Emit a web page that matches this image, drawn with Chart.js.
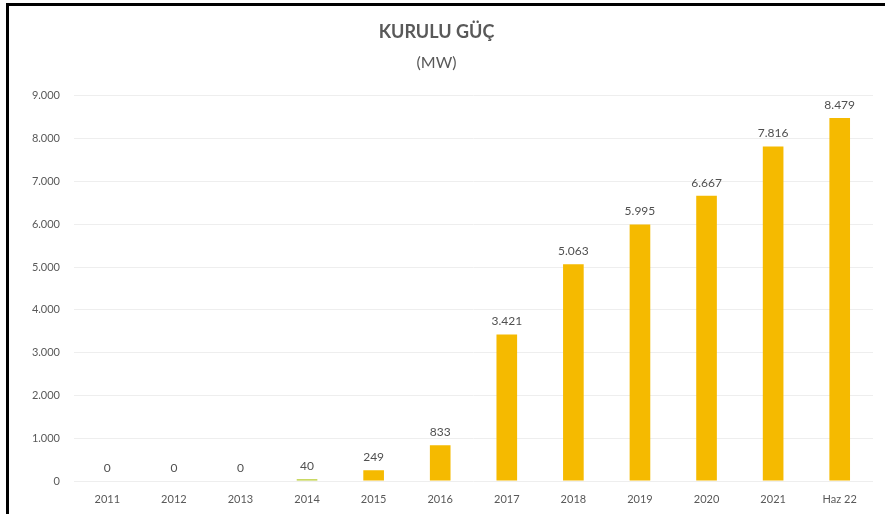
<!DOCTYPE html>
<html>
<head>
<meta charset="utf-8">
<script src="https://cdn.jsdelivr.net/npm/chart.js@4.4.0/dist/chart.umd.min.js"></script>
<style>
  html, body { margin: 0; padding: 0; background: #fff; }
  #wrap { position: relative; width: 885px; height: 514px; }
  #frameTop { position: absolute; left: 6px; top: 3px; width: 879px; height: 3px; background: #000; }
  #frameLeft { position: absolute; left: 6px; top: 3px; width: 3px; height: 511px; background: #000; }
  canvas { position: absolute; left: 0; top: 0; }
</style>
</head>
<body>
<div id="wrap">
  <canvas id="chart" width="885" height="514"></canvas>
  <div id="frameTop"></div>
  <div id="frameLeft"></div>
</div>
<script>
const categories = ['2011', '2012', '2013', '2014', '2015', '2016', '2017', '2018', '2019', '2020', '2021', 'Haz 22'];
const installedMW = [0, 0, 0, 40, 249, 833, 3421, 5063, 5995, 6667, 7816, 8479];
const barColors = ['#F5BA00', '#F5BA00', '#F5BA00', '#B8CC30', '#F5BA00', '#F5BA00', '#F5BA00', '#F5BA00', '#F5BA00', '#F5BA00', '#F5BA00', '#F5BA00'];

const fmt = v => String(v).replace(/\B(?=(\d{3})+(?!\d))/g, '.');

const valueLabels = {
    id: 'valueLabels',
    afterDatasetsDraw(chart) {
        const ctx = chart.ctx;
        const meta = chart.getDatasetMeta(0);
        ctx.save();
        ctx.font = '12px Lato';
        ctx.fillStyle = '#505050';
        ctx.textAlign = 'center';
        ctx.textBaseline = 'bottom';
        meta.data.forEach((bar, i) => {
            ctx.fillText(fmt(installedMW[i]), bar.x, bar.y - 7);
        });
        ctx.restore();
    }
};

new Chart(document.getElementById('chart').getContext('2d'), {
    type: 'bar',
    data: {
        labels: categories,
        datasets: [{ data: installedMW, backgroundColor: barColors, barPercentage: 0.31, categoryPercentage: 1 }]
    },
    options: {
        responsive: false,
        animation: false,
        layout: { padding: { left: 0, right: 12, bottom: 0 } },
        scales: {
            x: {
                afterFit(scale) { scale.height = 33; },
                grid: { display: false, drawTicks: false },
                border: { display: false },
                ticks: { color: '#595959', font: { family: 'Lato', size: 11 }, padding: 12 }
            },
            y: {
                min: 0, max: 9000,
                afterFit(scale) { scale.width = 74; },
                grid: { color: '#eeeeee', drawTicks: false },
                border: { display: false },
                ticks: { stepSize: 1000, color: '#595959', font: { family: 'Lato', size: 11 }, padding: 14, callback: v => fmt(v) }
            }
        },
        plugins: {
            legend: { display: false },
            tooltip: { enabled: false },
            title: { display: true, text: 'KURULU GÜÇ', color: '#595959', font: { family: 'Lato', size: 18, weight: 'bold' }, padding: { top: 21, bottom: 0 } },
            subtitle: { display: true, text: '(MW)', color: '#595959', font: { family: 'Lato', size: 16 }, padding: { top: 11, bottom: 23 } }
        }
    },
    plugins: [valueLabels]
});
</script>
</body>
</html>
